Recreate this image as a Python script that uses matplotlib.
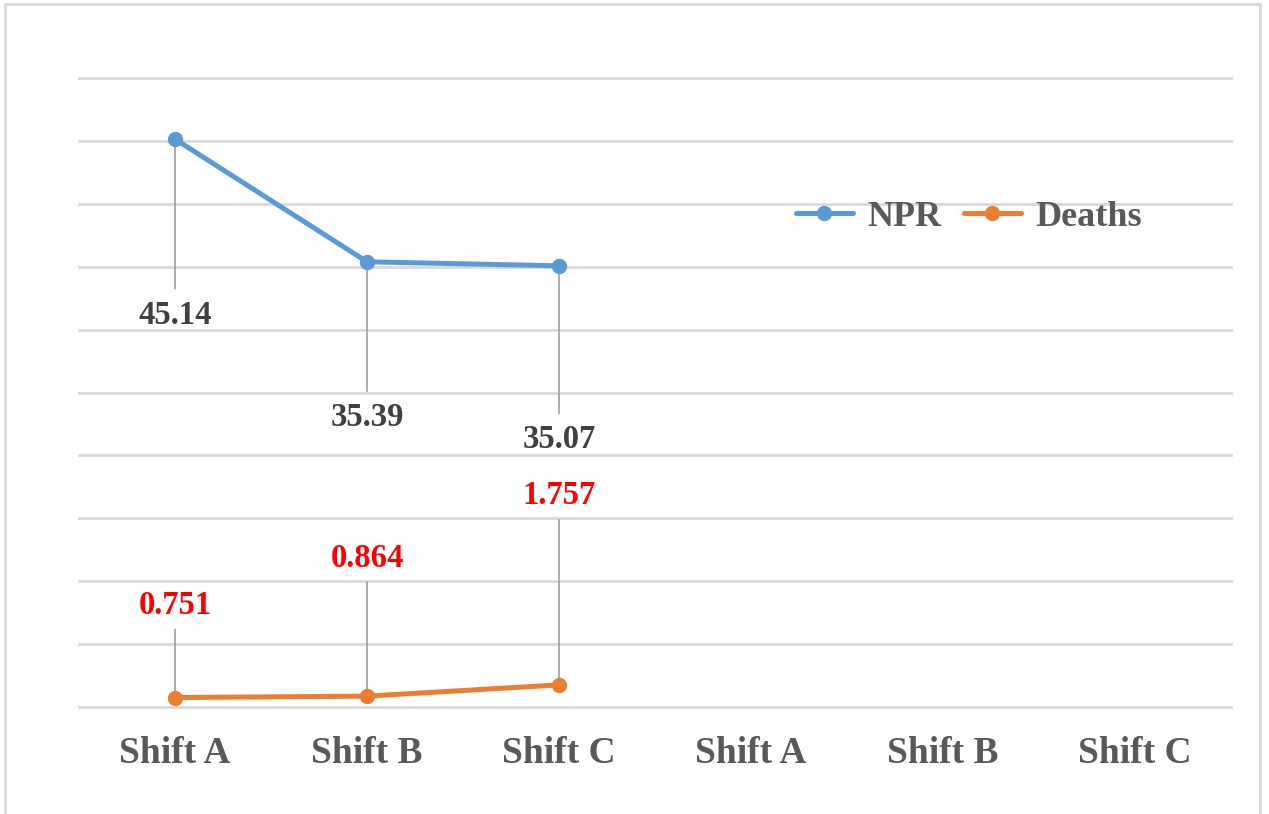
import matplotlib
matplotlib.use("Agg")
import matplotlib.pyplot as plt
from matplotlib.patches import Rectangle

# Dados por turno
categorias = ["Shift A", "Shift B", "Shift C", "Shift A", "Shift B", "Shift C"]
npr = [45.14, 35.39, 35.07]
mortes = [0.751, 0.864, 1.757]

cor_npr = "#5B9BD5"
cor_mortes = "#ED7D31"
cor_texto = "#595959"
cor_grade = "#D9D9D9"
cor_guia = "#A6A6A6"

plt.rcParams["font.family"] = ["Liberation Serif", "DejaVu Serif"]
plt.rcParams["font.weight"] = "bold"

fig = plt.figure(figsize=(12.69, 8.14), dpi=100)
ax = fig.add_axes([79 / 1269, 107 / 814, 1152 / 1269, 629 / 814])

# Moldura do gráfico
fig.patches.append(Rectangle((5 / 1269, -0.01), 1255 / 1269, 1 - 4 / 814 + 0.01,
                             transform=fig.transFigure, fill=False,
                             edgecolor=cor_grade, linewidth=2))

x = list(range(len(npr)))
ax.plot(x, npr, color=cor_npr, lw=3.6, marker="o", ms=10, label="NPR",
        solid_capstyle="round", zorder=3)
ax.plot(x, mortes, color=cor_mortes, lw=3.6, marker="o", ms=10, label="Deaths",
        solid_capstyle="round", zorder=3)

# Rótulos com linhas guia
desloc_npr = [-176, -156, -174]
desloc_mortes = [92, 138, 189]
for i, (v, d) in enumerate(zip(npr, desloc_npr)):
    ax.annotate(f"{v:.2f}", xy=(i, v), xytext=(0, d), textcoords="offset pixels",
                ha="center", va="center", fontsize=23.5, fontweight="bold",
                color="#404040",
                arrowprops=dict(arrowstyle="-", color=cor_guia, lw=1.3,
                                relpos=(0.5, 1), shrinkA=6, shrinkB=0),
                zorder=2)
for i, (v, d) in enumerate(zip(mortes, desloc_mortes)):
    ax.annotate(f"{v:.3f}", xy=(i, v), xytext=(0, d), textcoords="offset pixels",
                ha="center", va="center", fontsize=23.5, fontweight="bold",
                color="#FF0000",
                arrowprops=dict(arrowstyle="-", color=cor_guia, lw=1.3,
                                relpos=(0.5, 0), shrinkA=4, shrinkB=0),
                zorder=2)

ax.set_xlim(-0.5, len(categorias) - 0.5)
ax.set_ylim(0, 50)
ax.set_yticks(range(0, 51, 5))
ax.set_yticklabels([])
ax.set_xticks(range(len(categorias)))
ax.set_xticklabels(categorias, fontsize=27, fontweight="bold", color=cor_texto)
ax.tick_params(axis="both", length=0)
ax.tick_params(axis="x", pad=21)
ax.grid(axis="y", color=cor_grade, lw=2)
for g in ax.get_ygridlines():
    g.set_clip_on(False)
ax.set_axisbelow(True)
for s in ax.spines.values():
    s.set_visible(False)

leg = fig.legend(loc="center", bbox_to_anchor=(969 / 1269, 1 - 217 / 814), ncol=2,
                 frameon=False, fontsize=26, handlelength=1.6, handletextpad=0.4,
                 columnspacing=0.6)
for t in leg.get_texts():
    t.set_color(cor_texto)
    t.set_fontweight("bold")

fig.savefig("out.png", dpi=100, facecolor="white")
